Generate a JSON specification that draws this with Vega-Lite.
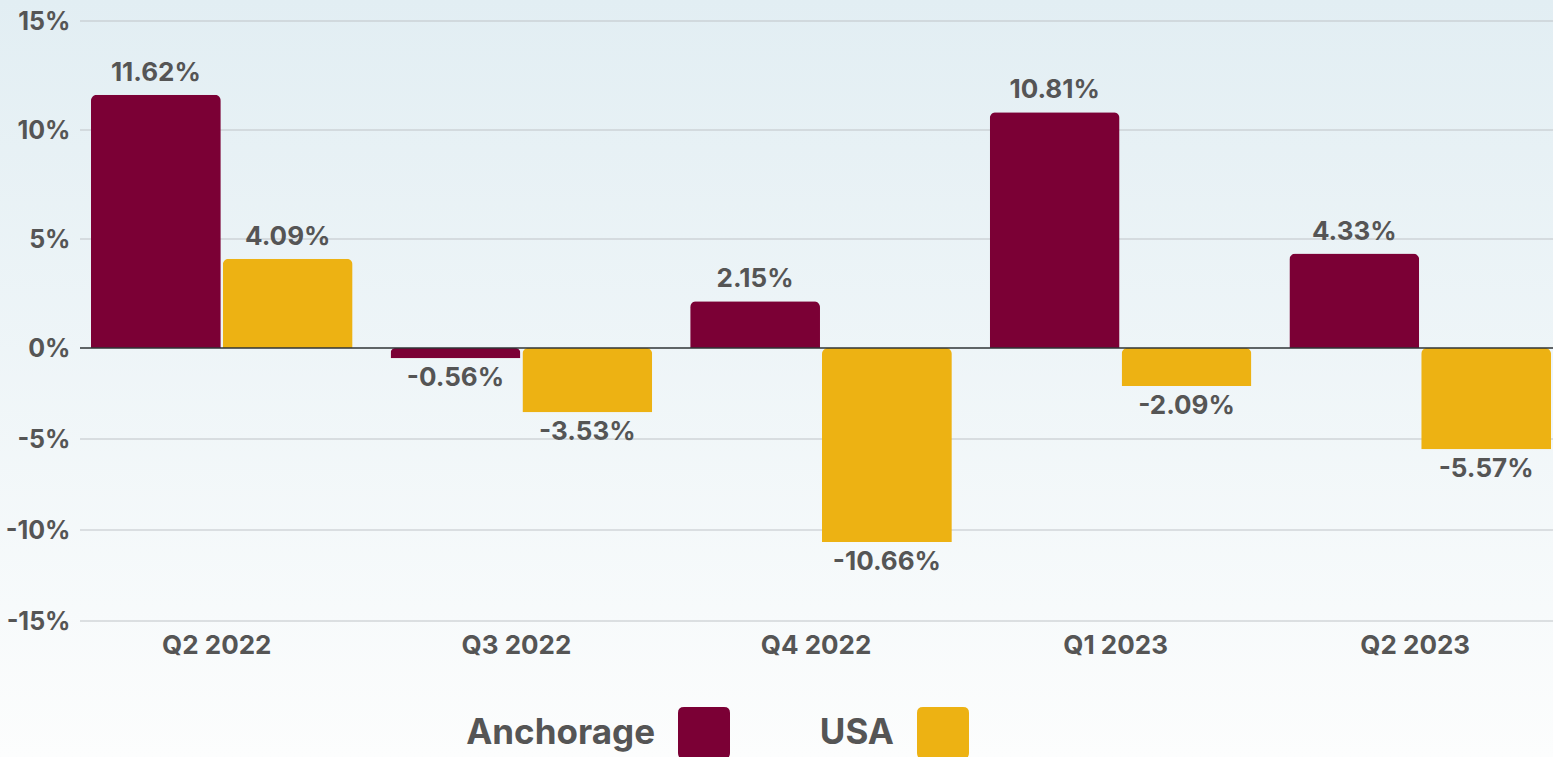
{
  "$schema": "https://vega.github.io/schema/vega-lite/v6.json",
  "width": 1553,
  "height": 757,
  "autosize": "none",
  "padding": 0,
  "background": "#eef4f7",
  "config": {
    "view": {
      "stroke": null,
      "fill": {"gradient": "linear", "x1": 0, "y1": 0, "x2": 0, "y2": 1, "stops": [{"offset": 0, "color": "#e2eef3"}, {"offset": 1, "color": "#fcfdfd"}]}
    },
    "font": "Inter",
    "locale": {"number": {"decimal": ".", "thousands": ",", "grouping": [3], "currency": ["$", ""], "minus": "-"}}
  },
  "datasets": {
    "bars": [
      {"quarter": "Q2 2022", "region": "Anchorage", "value": 0.1162},
      {"quarter": "Q2 2022", "region": "USA", "value": 0.0409},
      {"quarter": "Q3 2022", "region": "Anchorage", "value": -0.0056},
      {"quarter": "Q3 2022", "region": "USA", "value": -0.0353},
      {"quarter": "Q4 2022", "region": "Anchorage", "value": 0.0215},
      {"quarter": "Q4 2022", "region": "USA", "value": -0.1066},
      {"quarter": "Q1 2023", "region": "Anchorage", "value": 0.1081},
      {"quarter": "Q1 2023", "region": "USA", "value": -0.0209},
      {"quarter": "Q2 2023", "region": "Anchorage", "value": 0.0433},
      {"quarter": "Q2 2023", "region": "USA", "value": -0.0557}
    ],
    "grid": [
      {"v": -0.15}, {"v": -0.1}, {"v": -0.05}, {"v": 0.05}, {"v": 0.1}, {"v": 0.15}
    ]
  },
  "encoding": {
    "x": {
      "field": "quarter",
      "type": "nominal",
      "sort": ["Q2 2022", "Q3 2022", "Q4 2022", "Q1 2023", "Q2 2023"],
      "scale": {"range": [80, 1578], "paddingInner": 0, "paddingOuter": 0},
      "axis": {
        "title": null,
        "orient": "bottom",
        "offset": -136,
        "domain": false,
        "ticks": false,
        "grid": false,
        "labelAngle": 0,
        "labelPadding": 11,
        "labelOffset": -13,
        "labelFont": "Inter",
        "labelFontWeight": "bold",
        "labelFontSize": 26,
        "labelColor": "#555555"
      }
    }
  },
  "layer": [
    {
      "data": {"name": "grid"},
      "mark": {"type": "rule", "color": "#bfc4c7", "strokeWidth": 1.2},
      "encoding": {
        "x": {"datum": "Q2 2022", "type": "nominal", "bandPosition": 0},
        "x2": {"datum": "Q2 2023", "bandPosition": 1},
        "y": {"field": "v", "type": "quantitative"}
      }
    },
    {
      "data": {"name": "bars"},
      "mark": {"type": "bar", "cornerRadiusEnd": 6},
      "encoding": {
        "xOffset": {
          "field": "region",
          "type": "nominal",
          "scale": {"paddingInner": 0.01515, "paddingOuter": 0.1439, "align": 0.289}
        },
        "y": {
          "field": "value",
          "type": "quantitative",
          "scale": {"domain": [-0.15, 0, 0.15], "range": [621, 348, 21], "zero": false, "nice": false},
          "axis": {
            "title": null,
            "orient": "left",
            "offset": -72,
            "values": [-0.15, -0.1, -0.05, 0, 0.05, 0.1, 0.15],
            "format": ".0%",
            "domain": false,
            "ticks": false,
            "grid": false,
            "labelPadding": 2,
            "labelFont": "Inter",
            "labelFontWeight": "bold",
            "labelFontSize": 25,
            "labelColor": "#555555"
          }
        },
        "color": {
          "field": "region",
          "type": "nominal",
          "scale": {"domain": ["Anchorage", "USA"], "range": ["#7b0035", "#edb213"]},
          "legend": {
            "title": null,
            "orient": "none",
            "direction": "horizontal",
            "legendX": 678,
            "legendY": 707,
            "symbolType": "M-0.77,-1H0.77Q1,-1 1,-0.77V0.77Q1,1 0.77,1H-0.77Q-1,1 -1,0.77V-0.77Q-1,-1 -0.77,-1Z",
            "symbolSize": 2704,
            "symbolStrokeWidth": 0,
            "symbolOpacity": 1,
            "labelAlign": "right",
            "labelBaseline": "middle",
            "labelOffset": -75,
            "labelFont": "Inter",
            "labelFontWeight": "bold",
            "labelFontSize": 35,
            "labelColor": "#555555",
            "labelLimit": 400,
            "columnPadding": 89
          }
        }
      }
    },
    {
      "data": {"values": [{"z": 0}]},
      "mark": {"type": "rule", "color": "#2f3336", "strokeWidth": 1.5},
      "encoding": {
        "x": {"datum": "Q2 2022", "type": "nominal", "bandPosition": 0},
        "x2": {"datum": "Q2 2023", "bandPosition": 1},
        "y": {"field": "z", "type": "quantitative"}
      }
    },
    {
      "data": {"name": "bars"},
      "transform": [{"filter": "datum.value >= 0"}],
      "mark": {"type": "text", "baseline": "alphabetic", "dy": -14, "font": "Inter", "fontWeight": "bold", "fontSize": 26, "color": "#555555"},
      "encoding": {
        "xOffset": {"field": "region", "type": "nominal"},
        "y": {"field": "value", "type": "quantitative"},
        "text": {"field": "value", "type": "quantitative", "format": ".2%"}
      }
    },
    {
      "data": {"name": "bars"},
      "transform": [{"filter": "datum.value < 0"}],
      "mark": {"type": "text", "baseline": "alphabetic", "dy": 28, "font": "Inter", "fontWeight": "bold", "fontSize": 26, "color": "#555555"},
      "encoding": {
        "xOffset": {"field": "region", "type": "nominal"},
        "y": {"field": "value", "type": "quantitative"},
        "text": {"field": "value", "type": "quantitative", "format": ".2%"}
      }
    }
  ]
}
